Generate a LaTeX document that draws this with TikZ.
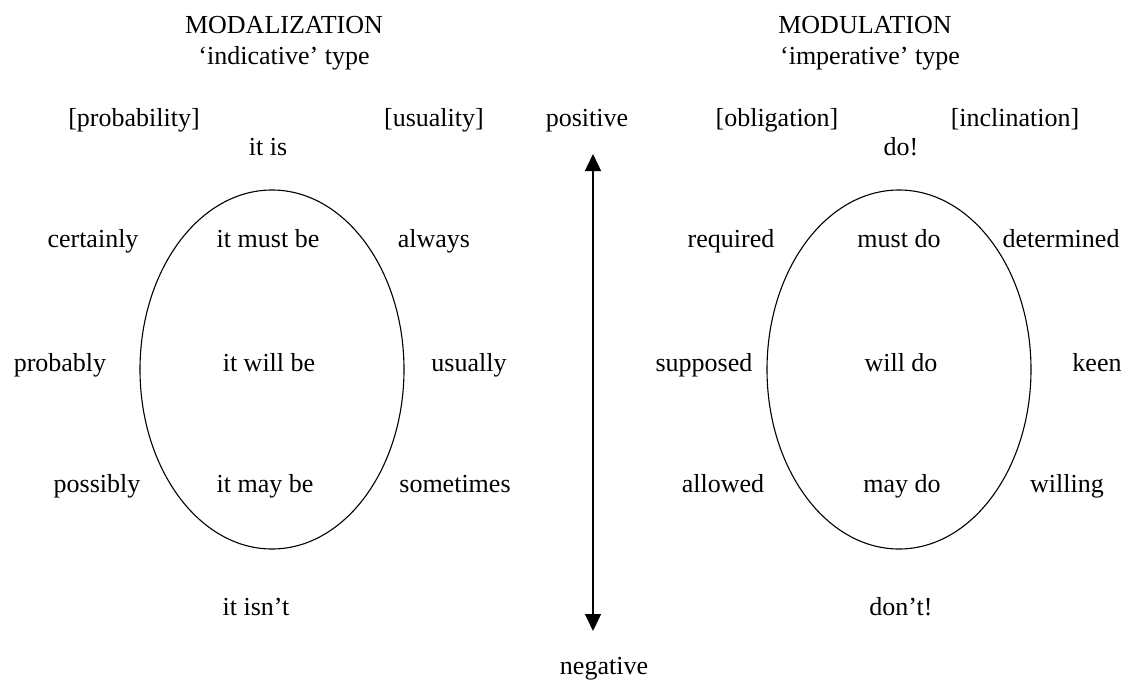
\documentclass[tikz,border=0pt]{standalone}
\usepackage{fontspec}
\setmainfont{Liberation Serif}
\usetikzlibrary{arrows.meta}

\begin{document}
\begin{tikzpicture}[x=1pt,y=-1pt,
    every node/.style={font=\fontsize{26}{30}\selectfont,inner sep=0pt,anchor=base},
    oval/.style={draw,line width=1.1pt},
    scale arrow/.style={{Triangle[width=16pt,length=17pt]}-{Triangle[width=16pt,length=17pt]},line width=1.4pt}]
    \useasboundingbox (0,0) rectangle (1132,680);
    %% Modalization
    \node (modal) at (284,33) {MODALIZATION};
    \node (indic) at (284,64) {‘indicative’ type};
    \node (prob) at (134,126) {[probability]};
    \node (usu) at (434,126) {[usuality]};
    \node (itis) at (268,155) {it is};
    \draw[oval] (272,369.5) ellipse [x radius=132,y radius=179.5];
    \node (cert) at (93,247) {certainly};
    \node (mustbe) at (268,247) {it must be};
    \node (always) at (434,247) {always};
    \node (probly) at (60,371) {probably};
    \node (willbe) at (269,371) {it will be};
    \node (usually) at (469,371) {usually};
    \node (possibly) at (97,492) {possibly};
    \node (maybe) at (265,492) {it may be};
    \node (sometimes) at (455,492) {sometimes};
    \node (isnt) at (256,615) {it isn’t};
    %% Modulation
    \node (modul) at (865,33) {MODULATION};
    \node (imper) at (870,64) {‘imperative’ type};
    \node (obl) at (777,126) {[obligation]};
    \node (incl) at (1015,126) {[inclination]};
    \node (do) at (901,155) {do!};
    \draw[oval] (899,369.5) ellipse [x radius=132,y radius=179.5];
    \node (req) at (731,247) {required};
    \node (mustdo) at (899,247) {must do};
    \node (det) at (1061,247) {determined};
    \node (supp) at (704,371) {supposed};
    \node (willdo) at (901,371) {will do};
    \node (keen) at (1097,371) {keen};
    \node (allowed) at (723,492) {allowed};
    \node (maydo) at (902,492) {may do};
    \node (willing) at (1067,492) {willing};
    \node (dont) at (901,615) {don’t!};
    %% Polarity scale
    \node (pos) at (587,126) {positive};
    \node (neg) at (604,674) {negative};
    \coordinate (top) at (593,154);
    \coordinate (bot) at (593,631);
    \draw[scale arrow] (top) -- (bot);
\end{tikzpicture}
\end{document}
